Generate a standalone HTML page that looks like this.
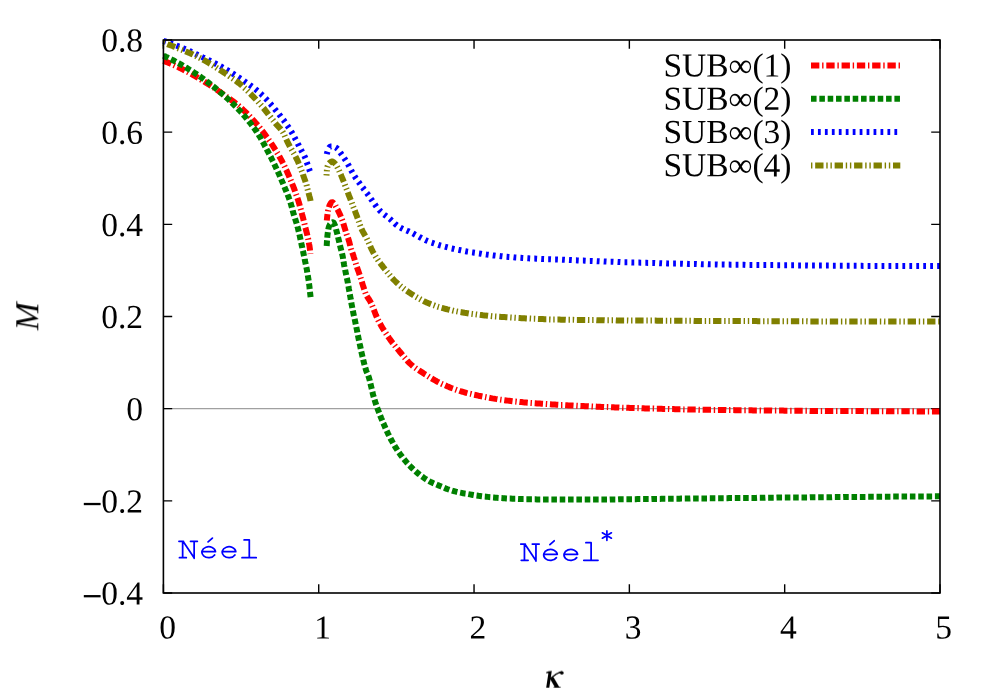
<!DOCTYPE html>
<html><head><meta charset="utf-8"><title>M vs kappa</title>
<style>html,body{margin:0;padding:0;background:#fff;}body{width:1000px;height:700px;overflow:hidden;}svg{display:block;}text{font-family:"Liberation Serif",serif;fill:#000;}.mono{font-family:"Liberation Mono",monospace;fill:#0000ff;}</style></head><body>
<svg width="1000" height="700" viewBox="0 0 1000 700">
<rect x="0" y="0" width="1000" height="700" fill="#ffffff"/>
<line x1="163.4" y1="408.67" x2="940.0" y2="408.67" stroke="#a0a0a0" stroke-width="1.2"/>
<path d="M163.40 593.00 V584.20 M163.40 40.00 V48.80 M318.72 593.00 V584.20 M318.72 40.00 V48.80 M474.04 593.00 V584.20 M474.04 40.00 V48.80 M629.36 593.00 V584.20 M629.36 40.00 V48.80 M784.68 593.00 V584.20 M784.68 40.00 V48.80 M940.00 593.00 V584.20 M940.00 40.00 V48.80 M163.40 40.00 H172.20 M940.00 40.00 H931.20 M163.40 132.17 H172.20 M940.00 132.17 H931.20 M163.40 224.33 H172.20 M940.00 224.33 H931.20 M163.40 316.50 H172.20 M940.00 316.50 H931.20 M163.40 408.67 H172.20 M940.00 408.67 H931.20 M163.40 500.83 H172.20 M940.00 500.83 H931.20 M163.40 593.00 H172.20 M940.00 593.00 H931.20" stroke="#000" stroke-width="1.4" fill="none"/>
<path d="M163.4 60.8 L164.8 61.3 L166.2 61.9 L167.6 62.4 L168.9 63.0 L170.3 63.6 L171.7 64.2 L173.1 64.8 L174.5 65.4 L175.8 66.0 L177.2 66.7 L178.6 67.3 L180.0 68.0 L181.3 68.7 L182.7 69.3 L184.0 70.0 L185.3 70.7 L186.7 71.4 L188.0 72.1 L189.3 72.8 L190.7 73.6 L192.0 74.3 L193.3 75.1 L194.7 75.9 L196.0 76.6 L197.3 77.4 L198.7 78.2 L200.0 79.0 L201.3 79.8 L202.7 80.6 L204.0 81.4 L205.3 82.3 L206.7 83.1 L208.0 84.0 L209.3 84.8 L210.7 85.7 L212.0 86.6 L213.3 87.4 L214.7 88.3 L216.0 89.2 L217.3 90.2 L218.7 91.1 L220.0 92.0 L221.2 92.9 L222.5 93.7 L223.8 94.6 L225.0 95.5 L226.2 96.4 L227.5 97.3 L228.8 98.2 L230.0 99.1 L231.2 100.0 L232.5 100.9 L233.8 101.9 L235.0 102.9 L236.2 103.9 L237.5 104.9 L238.8 105.9 L240.0 107.0 L241.1 107.9 L242.2 108.9 L243.2 109.9 L244.3 110.9 L245.4 112.0 L246.5 113.0 L247.5 114.1 L248.6 115.2 L249.7 116.3 L250.8 117.5 L251.8 118.6 L252.9 119.8 L254.0 121.0 L255.0 122.1 L256.0 123.3 L257.1 124.5 L258.1 125.7 L259.1 126.9 L260.1 128.2 L261.1 129.5 L262.2 130.8 L263.2 132.1 L264.2 133.5 L265.0 134.6 L265.9 135.8 L266.7 136.9 L267.6 138.1 L268.4 139.3 L269.2 140.5 L270.1 141.7 L270.9 142.9 L271.8 144.2 L272.6 145.4 L273.4 146.7 L274.3 148.0 L275.1 149.4 L276.0 150.7 L276.8 152.1 L277.6 153.5 L278.5 154.9 L279.3 156.4 L280.2 157.9 L281.0 159.4 L281.6 160.6 L282.3 161.8 L282.9 163.0 L283.5 164.2 L284.1 165.5 L284.8 166.8 L285.4 168.2 L286.0 169.5 L286.7 170.9 L287.3 172.3 L287.9 173.7 L288.6 175.1 L289.2 176.6 L289.8 178.1 L290.5 179.6 L291.1 181.1 L291.7 182.7 L292.3 184.2 L293.0 185.8 L293.6 187.4 L294.1 188.8 L294.7 190.2 L295.2 191.7 L295.8 193.2 L296.3 194.8 L296.9 196.4 L297.4 198.0 L298.0 199.7 L298.5 201.4 L298.9 202.8 L299.4 204.3 L299.8 205.9 L300.2 207.4 L300.7 209.1 L301.1 210.7 L301.6 212.3 L302.0 214.0 L302.4 215.5 L302.8 217.1 L303.2 218.6 L303.6 220.2 L304.0 221.9 L304.4 223.5 L304.8 225.2 L305.1 226.6 L305.5 227.9 L305.8 229.2 L306.1 230.4 L306.4 231.7 L306.8 233.0 L307.1 234.3 L307.4 235.6 L307.7 237.1 L308.1 238.5 L308.4 240.1 L308.7 241.8 L309.0 243.6 L309.4 245.5 L309.7 247.6 L309.9 248.9 L310.0 250.5 L310.2 252.2 L310.4 253.9" stroke="#ff0000" stroke-width="6.0" stroke-dasharray="8.34 2.78 1.39 2.78" stroke-dashoffset="0.00" fill="none" stroke-linejoin="round"/>
<path d="M326.8 220.5 L327.0 218.5 L327.2 216.6 L327.4 214.9 L327.6 213.5 L327.9 212.0 L328.1 210.7 L328.4 209.5 L328.6 208.5 L329.0 207.3 L329.3 206.1 L329.6 205.2 L330.0 204.5 L330.5 203.7 L331.0 202.9 L331.5 202.4 L332.0 202.2 L332.6 202.3 L333.1 202.7 L333.7 203.2 L334.3 203.8 L334.9 204.5 L335.4 205.4 L335.9 206.5 L336.5 207.5 L337.1 208.7 L337.8 209.9 L338.4 211.2 L339.0 212.5 L339.6 213.8 L340.2 215.1 L340.8 216.5 L341.4 218.0 L342.0 219.5 L342.5 220.9 L343.0 222.4 L343.5 224.0 L344.0 225.6 L344.5 227.3 L345.0 229.0 L345.5 230.7 L346.0 232.4 L346.5 234.0 L347.1 235.8 L347.8 237.4 L348.4 239.1 L349.0 241.0 L349.4 242.4 L349.8 244.1 L350.2 245.7 L350.6 247.3 L351.0 248.8 L351.5 250.4 L352.0 251.8 L352.5 253.2 L353.0 254.5 L353.5 256.0 L353.9 257.4 L354.4 258.8 L354.8 260.2 L355.2 261.6 L355.7 263.2 L356.2 264.8 L356.7 266.3 L357.2 267.8 L357.7 269.4 L358.3 270.9 L358.8 272.4 L359.3 273.9 L359.8 275.4 L360.3 276.9 L360.8 278.4 L361.3 280.0 L361.8 281.6 L362.3 283.3 L362.8 285.0 L363.3 286.6 L363.9 288.3 L364.4 289.9 L364.9 291.4 L365.4 292.8 L365.9 294.1 L366.4 295.2 L367.3 296.8 L368.2 298.2 L369.1 299.5 L370.0 301.0 L370.6 302.2 L371.2 303.4 L371.8 304.8 L372.4 306.2 L373.0 307.7 L373.6 309.2 L374.2 310.7 L374.8 312.3 L375.4 313.8 L376.0 315.3 L376.6 316.7 L377.2 318.1 L377.8 319.4 L378.4 320.6 L379.2 322.1 L380.0 323.6 L380.8 325.0 L381.6 326.4 L382.4 327.8 L383.2 329.1 L384.0 330.4 L384.8 331.7 L385.6 332.9 L386.4 334.1 L387.2 335.3 L388.0 336.5 L388.8 337.7 L389.6 338.8 L390.5 340.1 L391.5 341.4 L392.4 342.7 L393.4 343.9 L394.3 345.1 L395.3 346.3 L396.2 347.5 L397.2 348.6 L398.1 349.7 L399.1 350.9 L400.0 352.0 L401.1 353.3 L402.2 354.6 L403.3 356.0 L404.4 357.3 L405.5 358.6 L406.5 359.8 L407.6 361.1 L408.7 362.3 L409.8 363.4 L410.9 364.4 L412.0 365.4 L413.3 366.5 L414.7 367.5 L416.0 368.4 L417.3 369.3 L418.7 370.1 L420.0 371.0 L421.3 371.9 L422.7 372.7 L424.0 373.6 L425.3 374.5 L426.7 375.3 L428.0 376.2 L429.3 377.0 L430.7 377.8 L432.0 378.6 L433.3 379.4 L434.7 380.2 L436.0 380.9 L437.3 381.7 L438.7 382.3 L440.0 383.0 L441.4 383.7 L442.9 384.3 L444.3 385.0 L445.7 385.6 L447.1 386.2 L448.6 386.8 L450.0 387.4 L451.4 388.0 L452.9 388.5 L454.3 389.1 L455.7 389.6 L457.1 390.1 L458.6 390.5 L460.0 391.0 L461.5 391.5 L463.1 391.9 L464.6 392.3 L466.2 392.8 L467.7 393.2 L469.2 393.6 L470.8 393.9 L472.3 394.3 L473.8 394.7 L475.4 395.0 L476.9 395.3 L478.5 395.7 L480.0 396.0 L481.5 396.3 L483.1 396.6 L484.6 396.9 L486.2 397.2 L487.7 397.5 L489.2 397.8 L490.8 398.1 L492.3 398.4 L493.8 398.6 L495.4 398.9 L496.9 399.1 L498.5 399.4 L500.0 399.6 L501.5 399.8 L503.1 400.0 L504.6 400.2 L506.2 400.4 L507.7 400.6 L509.2 400.8 L510.8 401.0 L512.3 401.2 L513.8 401.4 L515.4 401.5 L516.9 401.7 L518.5 401.8 L520.0 402.0 L521.5 402.1 L523.1 402.3 L524.6 402.4 L526.2 402.5 L527.7 402.7 L529.2 402.8 L530.8 402.9 L532.3 403.0 L533.8 403.2 L535.4 403.3 L536.9 403.4 L538.5 403.5 L540.0 403.6 L541.5 403.7 L543.0 403.8 L544.5 403.9 L546.0 404.0 L547.5 404.1 L549.0 404.2 L550.5 404.3 L552.0 404.4 L553.5 404.5 L555.0 404.6 L556.5 404.7 L558.0 404.8 L559.5 404.9 L561.0 405.0 L562.5 405.0 L564.0 405.1 L565.5 405.2 L567.0 405.3 L568.5 405.4 L570.0 405.4 L571.5 405.5 L573.0 405.6 L574.5 405.7 L576.0 405.7 L577.5 405.8 L579.0 405.9 L580.5 406.0 L582.0 406.0 L583.5 406.1 L585.0 406.2 L586.5 406.2 L588.0 406.3 L589.5 406.4 L591.0 406.4 L592.5 406.5 L594.0 406.6 L595.5 406.6 L597.0 406.7 L598.5 406.8 L600.0 406.8 L601.5 406.9 L603.0 406.9 L604.5 407.0 L606.0 407.1 L607.5 407.1 L609.0 407.2 L610.5 407.2 L612.0 407.3 L613.5 407.3 L615.0 407.4 L616.5 407.4 L618.0 407.5 L619.5 407.6 L621.0 407.6 L622.5 407.7 L624.0 407.7 L625.5 407.7 L627.0 407.8 L628.5 407.8 L630.0 407.9 L631.5 407.9 L633.0 408.0 L634.5 408.0 L636.0 408.1 L637.5 408.1 L639.0 408.2 L640.5 408.2 L642.0 408.3 L643.5 408.3 L645.0 408.4 L646.5 408.4 L648.0 408.4 L649.5 408.5 L651.0 408.5 L652.5 408.6 L654.0 408.6 L655.5 408.7 L657.0 408.7 L658.5 408.7 L660.0 408.8 L661.5 408.8 L663.0 408.9 L664.5 408.9 L666.0 408.9 L667.5 409.0 L669.0 409.0 L670.5 409.1 L672.0 409.1 L673.5 409.1 L675.0 409.2 L676.5 409.2 L678.0 409.2 L679.5 409.3 L681.0 409.3 L682.5 409.3 L684.0 409.4 L685.5 409.4 L687.0 409.4 L688.5 409.5 L690.0 409.5 L691.5 409.5 L693.0 409.6 L694.5 409.6 L696.0 409.6 L697.5 409.6 L699.0 409.7 L700.5 409.7 L702.0 409.7 L703.5 409.7 L705.0 409.8 L706.5 409.8 L708.0 409.8 L709.5 409.8 L711.0 409.8 L712.5 409.9 L714.0 409.9 L715.5 409.9 L717.0 409.9 L718.5 409.9 L720.0 410.0 L721.5 410.0 L723.0 410.0 L724.5 410.0 L726.0 410.0 L727.5 410.1 L729.0 410.1 L730.5 410.1 L732.0 410.1 L733.5 410.1 L735.0 410.2 L736.5 410.2 L738.0 410.2 L739.5 410.2 L741.0 410.2 L742.5 410.2 L744.0 410.3 L745.5 410.3 L747.0 410.3 L748.5 410.3 L750.0 410.3 L751.5 410.3 L753.0 410.4 L754.5 410.4 L756.0 410.4 L757.5 410.4 L759.0 410.4 L760.5 410.4 L762.0 410.5 L763.5 410.5 L765.0 410.5 L766.5 410.5 L768.0 410.5 L769.5 410.5 L771.0 410.5 L772.5 410.6 L774.0 410.6 L775.5 410.6 L777.0 410.6 L778.5 410.6 L780.0 410.6 L781.5 410.6 L783.0 410.6 L784.5 410.7 L786.0 410.7 L787.5 410.7 L789.0 410.7 L790.5 410.7 L792.0 410.7 L793.5 410.7 L795.0 410.7 L796.5 410.8 L798.0 410.8 L799.5 410.8 L801.0 410.8 L802.5 410.8 L804.0 410.8 L805.5 410.8 L807.0 410.8 L808.5 410.8 L810.0 410.9 L811.5 410.9 L813.0 410.9 L814.5 410.9 L816.0 410.9 L817.5 410.9 L819.0 410.9 L820.5 410.9 L822.0 410.9 L823.5 410.9 L825.0 410.9 L826.5 411.0 L828.0 411.0 L829.5 411.0 L831.0 411.0 L832.5 411.0 L834.0 411.0 L835.5 411.0 L837.0 411.0 L838.5 411.0 L840.1 411.0 L841.6 411.0 L843.1 411.0 L844.6 411.1 L846.1 411.1 L847.6 411.1 L849.1 411.1 L850.7 411.1 L852.2 411.1 L853.7 411.1 L855.2 411.1 L856.7 411.1 L858.2 411.1 L859.7 411.1 L861.3 411.1 L862.8 411.1 L864.3 411.2 L865.8 411.2 L867.3 411.2 L868.8 411.2 L870.3 411.2 L871.9 411.2 L873.4 411.2 L874.9 411.2 L876.4 411.2 L877.9 411.2 L879.4 411.2 L880.9 411.2 L882.5 411.2 L884.0 411.2 L885.5 411.2 L887.0 411.3 L888.5 411.3 L890.0 411.3 L891.5 411.3 L893.1 411.3 L894.6 411.3 L896.1 411.3 L897.6 411.3 L899.1 411.3 L900.6 411.3 L902.1 411.3 L903.7 411.3 L905.2 411.3 L906.7 411.3 L908.2 411.3 L909.7 411.3 L911.2 411.3 L912.7 411.3 L914.3 411.3 L915.8 411.4 L917.3 411.4 L918.8 411.4 L920.3 411.4 L921.8 411.4 L923.3 411.4 L924.9 411.4 L926.4 411.4 L927.9 411.4 L929.4 411.4 L930.9 411.4 L932.4 411.4 L933.9 411.4 L935.5 411.4 L937.0 411.4 L938.5 411.4 L940.0 411.4" stroke="#ff0000" stroke-width="6.0" stroke-dasharray="8.34 2.78 1.39 2.78" stroke-dashoffset="1.90" fill="none" stroke-linejoin="round"/>
<path d="M163.4 55.7 L164.8 56.3 L166.2 57.0 L167.6 57.6 L168.9 58.3 L170.3 58.9 L171.7 59.6 L173.1 60.3 L174.5 61.0 L175.8 61.8 L177.2 62.5 L178.6 63.2 L180.0 64.0 L181.3 64.7 L182.7 65.5 L184.0 66.3 L185.3 67.1 L186.7 67.9 L188.0 68.7 L189.3 69.5 L190.7 70.3 L192.0 71.2 L193.3 72.0 L194.7 72.9 L196.0 73.8 L197.3 74.7 L198.7 75.6 L200.0 76.5 L201.2 77.4 L202.5 78.3 L203.8 79.2 L205.0 80.1 L206.2 81.0 L207.5 81.9 L208.8 82.9 L210.0 83.8 L211.2 84.8 L212.5 85.8 L213.8 86.8 L215.0 87.8 L216.2 88.9 L217.5 89.9 L218.8 90.9 L220.0 92.0 L221.1 93.0 L222.2 93.9 L223.3 94.9 L224.4 95.9 L225.6 96.9 L226.7 97.9 L227.8 98.9 L228.9 99.9 L230.0 100.9 L231.1 102.0 L232.2 103.1 L233.3 104.2 L234.4 105.3 L235.6 106.4 L236.7 107.5 L237.8 108.7 L238.9 109.8 L240.0 111.0 L241.0 112.1 L242.0 113.2 L243.0 114.3 L244.0 115.5 L245.0 116.6 L246.0 117.8 L247.0 119.0 L248.0 120.2 L249.0 121.5 L250.0 122.7 L251.0 124.0 L252.0 125.3 L253.0 126.6 L254.0 128.0 L254.9 129.2 L255.7 130.4 L256.6 131.6 L257.4 132.9 L258.3 134.2 L259.1 135.6 L260.0 137.0 L260.8 138.3 L261.5 139.6 L262.2 140.9 L263.0 142.3 L263.8 143.7 L264.5 145.2 L265.2 146.6 L266.0 148.0 L266.7 149.4 L267.4 150.7 L268.2 152.1 L268.9 153.5 L269.6 154.9 L270.3 156.2 L271.1 157.6 L271.8 159.1 L272.5 160.5 L273.2 161.9 L274.0 163.4 L274.7 164.9 L275.4 166.4 L276.0 167.7 L276.6 169.0 L277.2 170.3 L277.8 171.7 L278.5 173.0 L279.1 174.4 L279.7 175.8 L280.3 177.2 L280.9 178.6 L281.5 180.0 L282.1 181.5 L282.8 182.9 L283.4 184.4 L284.0 185.8 L284.6 187.3 L285.2 188.8 L285.7 190.1 L286.3 191.4 L286.8 192.7 L287.4 194.1 L287.9 195.4 L288.5 196.8 L289.0 198.3 L289.6 199.8 L290.1 201.4 L290.5 202.8 L291.0 204.3 L291.4 205.9 L291.9 207.5 L292.3 209.2 L292.7 210.9 L293.2 212.5 L293.6 214.0 L294.1 215.6 L294.6 217.2 L295.1 218.7 L295.6 220.2 L296.1 221.8 L296.6 223.4 L297.1 225.2 L297.4 226.4 L297.8 227.7 L298.1 229.0 L298.4 230.4 L298.8 231.8 L299.1 233.2 L299.4 234.6 L299.8 236.1 L300.1 237.6 L300.4 239.1 L300.7 240.6 L301.1 242.1 L301.4 243.7 L301.7 245.3 L302.1 246.9 L302.4 248.4 L302.7 250.0 L303.1 251.6 L303.4 253.2 L303.7 254.6 L304.0 255.9 L304.3 257.3 L304.6 258.6 L304.8 259.9 L305.1 261.3 L305.4 262.7 L305.7 264.1 L306.0 265.5 L306.3 266.9 L306.6 268.4 L306.9 269.9 L307.1 271.5 L307.4 273.1 L307.7 274.8 L308.0 276.6 L308.3 278.4 L308.5 279.7 L308.7 281.0 L308.9 282.5 L309.1 283.9 L309.3 285.5 L309.5 287.0 L309.6 288.7 L309.8 290.3 L310.0 292.0 L310.2 293.7 L310.4 295.5 L310.6 297.2" stroke="#008000" stroke-width="6.0" stroke-dasharray="5.56 2.78" stroke-dashoffset="0.00" fill="none" stroke-linejoin="round"/>
<path d="M326.7 246.0 L326.8 244.1 L326.9 242.3 L327.0 240.5 L327.2 238.9 L327.3 237.4 L327.4 236.1 L327.5 235.0 L327.8 232.6 L328.1 230.6 L328.4 228.8 L328.7 227.5 L329.0 226.5 L329.5 225.4 L330.0 224.4 L330.5 223.8 L331.0 223.3 L331.5 222.9 L332.0 222.6 L332.5 222.4 L333.0 222.3 L333.5 222.6 L334.0 223.3 L334.5 224.4 L335.0 225.5 L335.4 226.6 L335.8 228.0 L336.1 229.5 L336.5 231.0 L336.9 232.5 L337.3 234.1 L337.7 235.7 L338.1 237.4 L338.5 239.0 L338.9 240.7 L339.3 242.4 L339.7 244.1 L340.1 245.8 L340.5 247.5 L340.9 249.1 L341.3 250.6 L341.7 252.1 L342.1 253.7 L342.5 255.5 L342.8 256.8 L343.0 258.3 L343.2 259.8 L343.5 261.4 L343.8 263.0 L344.0 264.4 L344.3 266.1 L344.6 267.7 L345.0 269.2 L345.3 270.7 L345.6 272.2 L345.9 273.6 L346.2 275.1 L346.5 276.6 L346.9 278.1 L347.2 279.6 L347.5 281.2 L347.8 282.6 L348.0 284.0 L348.3 285.5 L348.6 287.0 L348.8 288.5 L349.1 290.1 L349.4 291.6 L349.6 293.2 L349.9 294.7 L350.2 296.3 L350.5 297.8 L350.7 299.3 L351.0 300.8 L351.3 302.3 L351.5 303.8 L351.8 305.2 L352.1 306.8 L352.4 308.3 L352.7 309.9 L353.0 311.4 L353.3 312.9 L353.6 314.4 L353.9 315.8 L354.2 317.3 L354.6 318.8 L354.9 320.2 L355.2 321.7 L355.5 323.1 L355.8 324.6 L356.1 326.0 L356.4 327.5 L356.7 329.0 L357.0 330.5 L357.3 332.0 L357.6 333.5 L357.9 335.1 L358.2 336.6 L358.5 338.2 L358.8 339.7 L359.1 341.2 L359.5 342.7 L359.8 344.3 L360.1 345.7 L360.4 347.2 L360.7 348.7 L361.0 350.1 L361.3 351.5 L361.6 352.8 L362.0 354.5 L362.4 356.3 L362.8 358.0 L363.2 359.7 L363.6 361.3 L364.0 362.9 L364.4 364.5 L364.8 366.0 L365.2 367.4 L365.6 368.7 L366.0 370.0 L366.6 371.8 L367.3 373.3 L368.0 374.8 L368.6 376.6 L369.0 377.8 L369.4 379.2 L369.8 380.6 L370.1 382.2 L370.5 383.8 L370.9 385.4 L371.3 387.1 L371.7 388.8 L372.1 390.5 L372.5 392.1 L372.8 393.7 L373.2 395.2 L373.6 396.7 L374.0 398.0 L374.5 399.6 L375.0 401.2 L375.5 402.7 L376.0 404.2 L376.5 405.7 L377.0 407.1 L377.5 408.5 L378.0 409.8 L378.5 411.1 L379.0 412.4 L379.5 413.7 L380.0 415.0 L380.6 416.6 L381.2 418.1 L381.9 419.7 L382.5 421.2 L383.1 422.7 L383.8 424.2 L384.4 425.6 L385.0 427.0 L385.6 428.4 L386.2 429.8 L386.9 431.2 L387.5 432.5 L388.1 433.8 L388.8 435.1 L389.4 436.3 L390.0 437.5 L390.8 439.1 L391.7 440.6 L392.5 442.1 L393.3 443.6 L394.2 445.0 L395.0 446.4 L395.8 447.8 L396.7 449.1 L397.5 450.4 L398.3 451.6 L399.2 452.8 L400.0 454.0 L401.0 455.4 L402.0 456.7 L403.0 458.0 L404.0 459.2 L405.0 460.5 L406.0 461.6 L407.0 462.8 L408.0 463.9 L409.0 465.0 L410.0 466.0 L411.2 467.3 L412.5 468.5 L413.8 469.7 L415.0 470.8 L416.2 471.9 L417.5 473.0 L418.8 474.0 L420.0 475.0 L421.4 476.1 L422.9 477.1 L424.3 478.1 L425.7 479.1 L427.1 480.0 L428.6 480.8 L430.0 481.6 L431.4 482.3 L432.9 483.0 L434.3 483.6 L435.7 484.2 L437.1 484.8 L438.6 485.4 L440.0 486.0 L441.4 486.6 L442.9 487.2 L444.3 487.8 L445.7 488.4 L447.1 489.0 L448.6 489.5 L450.0 490.0 L451.7 490.5 L453.3 491.0 L455.0 491.4 L456.7 491.8 L458.3 492.2 L460.0 492.6 L461.7 492.9 L463.3 493.3 L465.0 493.6 L466.7 493.8 L468.3 494.1 L470.0 494.4 L471.7 494.7 L473.3 495.0 L475.0 495.3 L476.7 495.5 L478.3 495.8 L480.0 496.0 L481.5 496.2 L483.1 496.4 L484.6 496.6 L486.2 496.7 L487.7 496.9 L489.2 497.1 L490.8 497.2 L492.3 497.4 L493.8 497.5 L495.4 497.7 L496.9 497.8 L498.5 497.9 L500.0 498.0 L501.5 498.1 L503.1 498.2 L504.6 498.3 L506.2 498.4 L507.7 498.5 L509.2 498.6 L510.8 498.6 L512.3 498.7 L513.8 498.8 L515.4 498.8 L516.9 498.9 L518.5 499.0 L520.0 499.0 L521.5 499.0 L523.1 499.1 L524.6 499.1 L526.2 499.2 L527.7 499.2 L529.2 499.2 L530.8 499.3 L532.3 499.3 L533.8 499.3 L535.4 499.3 L536.9 499.4 L538.5 499.4 L540.0 499.4 L541.5 499.4 L543.1 499.4 L544.6 499.4 L546.2 499.5 L547.7 499.5 L549.2 499.5 L550.8 499.5 L552.3 499.5 L553.8 499.5 L555.4 499.5 L556.9 499.5 L558.5 499.5 L560.0 499.5 L561.5 499.6 L563.1 499.6 L564.6 499.6 L566.2 499.6 L567.7 499.6 L569.2 499.6 L570.8 499.6 L572.3 499.6 L573.8 499.6 L575.4 499.6 L576.9 499.6 L578.5 499.6 L580.0 499.6 L581.5 499.6 L583.0 499.6 L584.5 499.6 L586.0 499.6 L587.5 499.6 L589.1 499.6 L590.6 499.6 L592.1 499.6 L593.6 499.6 L595.1 499.6 L596.6 499.5 L598.1 499.5 L599.6 499.5 L601.1 499.5 L602.6 499.5 L604.1 499.5 L605.6 499.5 L607.2 499.5 L608.7 499.5 L610.2 499.4 L611.7 499.4 L613.2 499.4 L614.7 499.4 L616.2 499.4 L617.7 499.4 L619.2 499.3 L620.7 499.3 L622.2 499.3 L623.8 499.3 L625.3 499.3 L626.8 499.3 L628.3 499.2 L629.8 499.2 L631.3 499.2 L632.8 499.2 L634.3 499.2 L635.8 499.2 L637.3 499.1 L638.8 499.1 L640.4 499.1 L641.9 499.1 L643.4 499.1 L644.9 499.0 L646.4 499.0 L647.9 499.0 L649.4 499.0 L650.9 499.0 L652.4 498.9 L653.9 498.9 L655.4 498.9 L656.9 498.9 L658.5 498.9 L660.0 498.9 L661.5 498.8 L663.0 498.8 L664.5 498.8 L666.0 498.8 L667.5 498.8 L669.0 498.8 L670.5 498.8 L672.0 498.7 L673.5 498.7 L675.0 498.7 L676.5 498.7 L678.0 498.7 L679.5 498.7 L681.0 498.6 L682.5 498.6 L684.0 498.6 L685.5 498.6 L687.0 498.6 L688.5 498.6 L690.0 498.6 L691.5 498.5 L693.0 498.5 L694.5 498.5 L696.0 498.5 L697.5 498.5 L699.0 498.5 L700.5 498.4 L702.0 498.4 L703.5 498.4 L705.0 498.4 L706.5 498.4 L708.0 498.4 L709.5 498.3 L711.0 498.3 L712.5 498.3 L714.0 498.3 L715.5 498.3 L717.0 498.3 L718.5 498.3 L720.0 498.2 L721.5 498.2 L723.0 498.2 L724.5 498.2 L726.0 498.2 L727.5 498.2 L729.0 498.1 L730.5 498.1 L732.0 498.1 L733.5 498.1 L735.0 498.1 L736.5 498.1 L738.0 498.0 L739.5 498.0 L741.0 498.0 L742.5 498.0 L744.0 498.0 L745.5 498.0 L747.0 497.9 L748.5 497.9 L750.0 497.9 L751.5 497.9 L753.0 497.9 L754.5 497.9 L756.0 497.9 L757.5 497.8 L759.0 497.8 L760.5 497.8 L762.0 497.8 L763.5 497.8 L765.0 497.8 L766.5 497.7 L768.0 497.7 L769.5 497.7 L771.0 497.7 L772.5 497.7 L774.0 497.7 L775.5 497.7 L777.0 497.6 L778.5 497.6 L780.0 497.6 L781.5 497.6 L783.0 497.6 L784.5 497.6 L786.0 497.6 L787.5 497.5 L789.0 497.5 L790.5 497.5 L792.0 497.5 L793.5 497.5 L795.0 497.5 L796.5 497.5 L798.0 497.4 L799.6 497.4 L801.1 497.4 L802.6 497.4 L804.1 497.4 L805.6 497.4 L807.1 497.4 L808.6 497.4 L810.1 497.3 L811.6 497.3 L813.1 497.3 L814.7 497.3 L816.2 497.3 L817.7 497.3 L819.2 497.3 L820.7 497.2 L822.2 497.2 L823.7 497.2 L825.2 497.2 L826.7 497.2 L828.2 497.2 L829.8 497.2 L831.3 497.2 L832.8 497.1 L834.3 497.1 L835.8 497.1 L837.3 497.1 L838.8 497.1 L840.3 497.1 L841.8 497.1 L843.3 497.0 L844.9 497.0 L846.4 497.0 L847.9 497.0 L849.4 497.0 L850.9 497.0 L852.4 497.0 L853.9 497.0 L855.4 496.9 L856.9 496.9 L858.4 496.9 L860.0 496.9 L861.5 496.9 L863.0 496.9 L864.5 496.9 L866.0 496.9 L867.5 496.8 L869.0 496.8 L870.5 496.8 L872.0 496.8 L873.6 496.8 L875.1 496.8 L876.6 496.8 L878.1 496.8 L879.6 496.7 L881.1 496.7 L882.6 496.7 L884.1 496.7 L885.6 496.7 L887.1 496.7 L888.7 496.7 L890.2 496.7 L891.7 496.7 L893.2 496.6 L894.7 496.6 L896.2 496.6 L897.7 496.6 L899.2 496.6 L900.7 496.6 L902.2 496.6 L903.8 496.6 L905.3 496.6 L906.8 496.5 L908.3 496.5 L909.8 496.5 L911.3 496.5 L912.8 496.5 L914.3 496.5 L915.8 496.5 L917.3 496.5 L918.9 496.5 L920.4 496.4 L921.9 496.4 L923.4 496.4 L924.9 496.4 L926.4 496.4 L927.9 496.4 L929.4 496.4 L930.9 496.4 L932.4 496.4 L934.0 496.3 L935.5 496.3 L937.0 496.3 L938.5 496.3 L940.0 496.3" stroke="#008000" stroke-width="6.0" stroke-dasharray="5.56 2.78" stroke-dashoffset="0.00" fill="none" stroke-linejoin="round"/>
<path d="M163.4 40.8 L164.9 41.3 L166.4 41.8 L167.9 42.4 L169.4 42.9 L170.9 43.5 L172.5 44.0 L174.0 44.6 L175.5 45.2 L177.0 45.8 L178.5 46.4 L180.0 47.0 L181.4 47.6 L182.9 48.2 L184.3 48.8 L185.7 49.4 L187.1 50.0 L188.6 50.7 L190.0 51.3 L191.4 52.0 L192.9 52.6 L194.3 53.3 L195.7 54.0 L197.1 54.6 L198.6 55.3 L200.0 56.0 L201.4 56.7 L202.9 57.4 L204.3 58.0 L205.7 58.7 L207.1 59.4 L208.6 60.1 L210.0 60.8 L211.4 61.5 L212.9 62.2 L214.3 63.0 L215.7 63.7 L217.1 64.5 L218.6 65.2 L220.0 66.0 L221.3 66.7 L222.7 67.5 L224.0 68.3 L225.3 69.0 L226.7 69.8 L228.0 70.6 L229.3 71.4 L230.7 72.3 L232.0 73.1 L233.3 73.9 L234.7 74.8 L236.0 75.7 L237.3 76.5 L238.7 77.4 L240.0 78.3 L241.2 79.1 L242.5 80.0 L243.8 80.8 L245.0 81.7 L246.2 82.5 L247.5 83.4 L248.8 84.2 L250.0 85.1 L251.2 86.0 L252.5 86.9 L253.8 87.9 L255.0 88.8 L256.2 89.8 L257.5 90.9 L258.8 91.9 L260.0 93.0 L261.1 94.0 L262.1 95.0 L263.2 96.0 L264.3 97.1 L265.3 98.2 L266.4 99.3 L267.5 100.5 L268.5 101.7 L269.6 102.9 L270.7 104.1 L271.7 105.4 L272.8 106.6 L273.9 107.9 L274.9 109.2 L276.0 110.5 L276.9 111.6 L277.9 112.8 L278.8 113.9 L279.7 115.1 L280.7 116.3 L281.6 117.5 L282.5 118.8 L283.5 120.0 L284.4 121.3 L285.3 122.6 L286.3 123.9 L287.2 125.3 L288.1 126.6 L289.1 128.1 L290.0 129.5 L290.7 130.7 L291.4 131.8 L292.2 133.1 L292.9 134.3 L293.6 135.6 L294.3 137.0 L295.0 138.3 L295.8 139.7 L296.5 141.0 L297.2 142.4 L297.9 143.8 L298.6 145.2 L299.3 146.6 L300.1 148.0 L300.8 149.3 L301.5 150.7 L302.4 152.3 L303.2 153.8 L304.1 155.4 L305.0 157.3 L305.6 158.7 L306.1 160.3 L306.6 161.9 L307.2 163.5 L307.8 165.1 L308.4 166.7 L308.9 168.3 L309.5 170.0 L309.6 170.5 L309.8 171.0 L310.0 171.5 L310.1 172.0" stroke="#0000ff" stroke-width="6.0" stroke-dasharray="2.78 4.17" stroke-dashoffset="0.00" fill="none" stroke-linejoin="round"/>
<path d="M326.8 154.2 L327.1 152.8 L327.5 151.5 L327.9 150.4 L328.2 149.6 L328.8 148.5 L329.3 147.6 L329.8 146.9 L330.4 146.6 L331.2 146.6 L331.9 146.6 L332.7 146.6 L333.5 146.6 L334.3 146.7 L335.1 147.1 L336.0 147.6 L336.8 148.2 L337.9 149.2 L338.9 150.6 L339.9 152.1 L341.0 153.6 L342.0 155.0 L343.0 156.4 L344.0 157.8 L345.0 159.3 L345.9 160.7 L346.8 162.2 L347.7 163.8 L348.6 165.4 L349.4 166.9 L350.2 168.4 L351.0 169.9 L351.8 171.4 L352.7 173.0 L353.6 174.6 L354.5 176.1 L355.4 177.5 L356.4 178.9 L357.4 180.3 L358.3 181.6 L359.3 182.9 L360.2 184.2 L361.2 185.5 L362.1 186.8 L363.1 188.0 L364.0 189.3 L365.0 190.6 L365.9 191.9 L366.9 193.1 L367.8 194.4 L368.8 195.7 L369.7 197.1 L370.7 198.5 L371.7 199.9 L372.6 201.3 L373.6 202.7 L374.6 204.0 L375.6 205.4 L376.5 206.7 L377.5 207.9 L378.5 209.1 L379.4 210.2 L380.4 211.2 L381.6 212.3 L382.8 213.4 L384.0 214.4 L385.2 215.3 L386.4 216.2 L387.6 217.1 L388.8 218.0 L390.0 219.0 L391.2 220.1 L392.5 221.3 L393.7 222.4 L394.9 223.6 L396.1 224.7 L397.4 225.7 L398.6 226.6 L400.0 227.4 L401.5 228.2 L402.9 228.9 L404.3 229.5 L405.7 230.1 L407.1 230.7 L408.6 231.3 L410.0 232.0 L411.4 232.7 L412.9 233.4 L414.3 234.2 L415.7 235.0 L417.1 235.7 L418.6 236.5 L420.0 237.3 L421.4 238.0 L422.9 238.8 L424.3 239.5 L425.7 240.2 L427.1 240.8 L428.6 241.4 L430.0 242.0 L431.5 242.6 L433.1 243.1 L434.6 243.6 L436.2 244.1 L437.7 244.6 L439.2 245.1 L440.8 245.6 L442.3 246.0 L443.8 246.4 L445.4 246.8 L446.9 247.2 L448.5 247.6 L450.0 248.0 L451.5 248.4 L453.1 248.7 L454.6 249.1 L456.2 249.4 L457.7 249.7 L459.2 250.0 L460.8 250.3 L462.3 250.6 L463.8 250.9 L465.4 251.2 L466.9 251.5 L468.5 251.7 L470.0 252.0 L471.5 252.3 L473.1 252.5 L474.6 252.8 L476.2 253.0 L477.7 253.3 L479.2 253.5 L480.8 253.7 L482.3 254.0 L483.8 254.2 L485.4 254.4 L486.9 254.6 L488.5 254.8 L490.0 255.0 L491.5 255.2 L493.1 255.4 L494.6 255.5 L496.2 255.7 L497.7 255.9 L499.2 256.0 L500.8 256.2 L502.3 256.3 L503.8 256.5 L505.4 256.6 L506.9 256.7 L508.5 256.9 L510.0 257.0 L511.5 257.1 L513.1 257.2 L514.6 257.4 L516.2 257.5 L517.7 257.6 L519.2 257.7 L520.8 257.8 L522.3 257.9 L523.8 258.0 L525.4 258.1 L526.9 258.2 L528.5 258.3 L530.0 258.4 L531.6 258.5 L533.1 258.6 L534.7 258.6 L536.2 258.7 L537.8 258.8 L539.3 258.9 L540.9 258.9 L542.4 259.0 L544.0 259.0 L545.6 259.1 L547.1 259.2 L548.7 259.2 L550.2 259.3 L551.8 259.4 L553.3 259.4 L554.9 259.5 L556.4 259.5 L558.0 259.6 L559.5 259.7 L561.0 259.7 L562.5 259.8 L564.0 259.8 L565.5 259.9 L567.0 260.0 L568.5 260.0 L570.0 260.1 L571.5 260.1 L573.0 260.2 L574.5 260.3 L576.0 260.3 L577.5 260.4 L579.0 260.5 L580.5 260.5 L582.0 260.6 L583.5 260.6 L585.0 260.7 L586.5 260.8 L588.0 260.8 L589.5 260.9 L591.0 260.9 L592.5 261.0 L594.0 261.1 L595.5 261.1 L597.0 261.2 L598.5 261.2 L600.0 261.3 L601.5 261.4 L603.0 261.4 L604.5 261.5 L606.0 261.5 L607.5 261.6 L609.0 261.6 L610.5 261.7 L612.0 261.7 L613.5 261.8 L615.0 261.9 L616.5 261.9 L618.0 262.0 L619.5 262.0 L621.0 262.1 L622.5 262.1 L624.0 262.2 L625.5 262.2 L627.0 262.3 L628.5 262.3 L630.0 262.4 L631.5 262.4 L633.0 262.5 L634.5 262.5 L636.0 262.5 L637.5 262.6 L639.0 262.6 L640.5 262.7 L642.0 262.7 L643.5 262.8 L645.0 262.8 L646.5 262.8 L648.0 262.9 L649.5 262.9 L651.0 263.0 L652.5 263.0 L654.0 263.0 L655.5 263.1 L657.0 263.1 L658.5 263.1 L660.0 263.2 L661.5 263.2 L663.0 263.3 L664.5 263.3 L666.0 263.3 L667.5 263.4 L669.0 263.4 L670.5 263.4 L672.0 263.5 L673.5 263.5 L675.0 263.6 L676.5 263.6 L678.0 263.6 L679.5 263.7 L681.0 263.7 L682.5 263.7 L684.0 263.8 L685.5 263.8 L687.0 263.8 L688.5 263.9 L690.0 263.9 L691.5 263.9 L693.0 264.0 L694.5 264.0 L696.0 264.0 L697.5 264.1 L699.0 264.1 L700.5 264.1 L702.0 264.2 L703.5 264.2 L705.0 264.2 L706.5 264.2 L708.0 264.3 L709.5 264.3 L711.0 264.3 L712.5 264.4 L714.0 264.4 L715.5 264.4 L717.0 264.4 L718.5 264.5 L720.0 264.5 L721.5 264.5 L723.0 264.5 L724.5 264.6 L726.0 264.6 L727.5 264.6 L729.0 264.6 L730.5 264.7 L732.0 264.7 L733.5 264.7 L735.0 264.7 L736.5 264.7 L738.0 264.8 L739.5 264.8 L741.0 264.8 L742.5 264.8 L744.0 264.8 L745.5 264.9 L747.0 264.9 L748.5 264.9 L750.0 264.9 L751.5 264.9 L753.0 264.9 L754.5 264.9 L756.0 265.0 L757.5 265.0 L759.0 265.0 L760.6 265.0 L762.1 265.0 L763.6 265.0 L765.1 265.1 L766.6 265.1 L768.1 265.1 L769.6 265.1 L771.1 265.1 L772.6 265.1 L774.1 265.1 L775.6 265.2 L777.1 265.2 L778.7 265.2 L780.2 265.2 L781.7 265.2 L783.2 265.2 L784.7 265.2 L786.2 265.3 L787.7 265.3 L789.2 265.3 L790.7 265.3 L792.2 265.3 L793.7 265.3 L795.2 265.3 L796.7 265.4 L798.3 265.4 L799.8 265.4 L801.3 265.4 L802.8 265.4 L804.3 265.4 L805.8 265.4 L807.3 265.4 L808.8 265.5 L810.3 265.5 L811.8 265.5 L813.3 265.5 L814.8 265.5 L816.3 265.5 L817.9 265.5 L819.4 265.5 L820.9 265.6 L822.4 265.6 L823.9 265.6 L825.4 265.6 L826.9 265.6 L828.4 265.6 L829.9 265.6 L831.4 265.6 L832.9 265.7 L834.4 265.7 L836.0 265.7 L837.5 265.7 L839.0 265.7 L840.5 265.7 L842.0 265.7 L843.5 265.7 L845.0 265.7 L846.5 265.8 L848.0 265.8 L849.5 265.8 L851.0 265.8 L852.5 265.8 L854.0 265.8 L855.6 265.8 L857.1 265.8 L858.6 265.8 L860.1 265.8 L861.6 265.8 L863.1 265.9 L864.6 265.9 L866.1 265.9 L867.6 265.9 L869.1 265.9 L870.6 265.9 L872.1 265.9 L873.7 265.9 L875.2 265.9 L876.7 265.9 L878.2 265.9 L879.7 265.9 L881.2 266.0 L882.7 266.0 L884.2 266.0 L885.7 266.0 L887.2 266.0 L888.7 266.0 L890.2 266.0 L891.7 266.0 L893.3 266.0 L894.8 266.0 L896.3 266.0 L897.8 266.0 L899.3 266.0 L900.8 266.0 L902.3 266.0 L903.8 266.0 L905.3 266.0 L906.8 266.1 L908.3 266.1 L909.8 266.1 L911.3 266.1 L912.9 266.1 L914.4 266.1 L915.9 266.1 L917.4 266.1 L918.9 266.1 L920.4 266.1 L921.9 266.1 L923.4 266.1 L924.9 266.1 L926.4 266.1 L927.9 266.1 L929.4 266.1 L931.0 266.1 L932.5 266.1 L934.0 266.1 L935.5 266.1 L937.0 266.1 L938.5 266.1 L940.0 266.1" stroke="#0000ff" stroke-width="6.0" stroke-dasharray="2.78 4.17" stroke-dashoffset="0.00" fill="none" stroke-linejoin="round"/>
<path d="M163.4 42.8 L164.9 43.3 L166.4 43.8 L167.9 44.4 L169.4 44.9 L170.9 45.5 L172.5 46.0 L174.0 46.6 L175.5 47.2 L177.0 47.8 L178.5 48.4 L180.0 49.0 L181.4 49.6 L182.9 50.2 L184.3 50.8 L185.7 51.4 L187.1 52.0 L188.6 52.6 L190.0 53.2 L191.4 53.9 L192.9 54.5 L194.3 55.2 L195.7 55.9 L197.1 56.6 L198.6 57.3 L200.0 58.0 L201.3 58.7 L202.7 59.4 L204.0 60.2 L205.3 60.9 L206.7 61.7 L208.0 62.5 L209.3 63.3 L210.7 64.1 L212.0 64.9 L213.3 65.7 L214.7 66.6 L216.0 67.4 L217.3 68.3 L218.7 69.1 L220.0 70.0 L221.2 70.8 L222.5 71.6 L223.8 72.4 L225.0 73.2 L226.2 74.1 L227.5 74.9 L228.8 75.7 L230.0 76.6 L231.2 77.4 L232.5 78.3 L233.8 79.2 L235.0 80.1 L236.2 81.0 L237.5 82.0 L238.8 83.0 L240.0 84.0 L241.1 84.9 L242.2 85.9 L243.3 86.9 L244.4 87.9 L245.6 88.9 L246.7 90.0 L247.8 91.1 L248.9 92.2 L250.0 93.3 L251.1 94.4 L252.2 95.6 L253.3 96.7 L254.4 97.9 L255.6 99.1 L256.7 100.3 L257.8 101.5 L258.9 102.8 L260.0 104.0 L260.9 105.1 L261.9 106.2 L262.8 107.3 L263.8 108.4 L264.7 109.6 L265.6 110.8 L266.6 112.0 L267.5 113.2 L268.5 114.5 L269.4 115.7 L270.4 116.9 L271.3 118.1 L272.2 119.3 L273.2 120.5 L274.1 121.7 L275.1 122.9 L276.0 124.0 L277.1 125.2 L278.1 126.3 L279.2 127.5 L280.3 128.6 L281.3 129.9 L282.4 131.4 L283.1 132.5 L283.8 133.9 L284.5 135.3 L285.2 136.9 L285.9 138.5 L286.6 140.0 L287.3 141.6 L288.0 143.0 L288.8 144.4 L289.5 145.8 L290.2 147.2 L291.0 148.5 L291.8 149.8 L292.5 151.1 L293.2 152.4 L294.0 153.7 L294.8 155.1 L295.5 156.5 L296.2 158.0 L297.0 159.5 L297.6 160.8 L298.2 162.1 L298.8 163.6 L299.4 165.0 L300.0 166.5 L300.6 168.0 L301.1 169.5 L301.7 171.0 L302.3 172.6 L302.9 174.2 L303.4 175.9 L304.0 177.5 L304.5 178.9 L305.0 180.3 L305.5 181.8 L306.0 183.3 L306.5 185.0 L306.8 185.9 L307.0 187.0 L307.2 188.0 L307.5 189.0 L307.9 190.5 L308.3 192.0 L308.7 193.5 L309.1 195.0 L309.5 196.5 L309.8 197.5 L310.0 198.4 L310.2 199.4 L310.5 200.5 L310.6 201.1 L310.8 201.7 L310.9 202.3 L311.0 203.0" stroke="#808000" stroke-width="6.0" stroke-dasharray="1.39 2.78 8.34 2.78 1.39 2.78" stroke-dashoffset="0.00" fill="none" stroke-linejoin="round"/>
<path d="M326.5 175.5 L326.6 173.6 L326.8 171.7 L326.9 170.0 L327.1 168.7 L327.2 167.8 L327.6 166.1 L328.1 164.9 L328.6 164.1 L329.0 163.5 L329.8 162.7 L330.6 162.1 L331.3 161.7 L332.1 161.5 L332.8 161.7 L333.6 162.1 L334.3 162.8 L335.0 163.5 L335.7 164.3 L336.4 165.4 L337.0 166.5 L337.7 167.8 L338.3 169.0 L338.9 170.3 L339.5 171.6 L340.1 173.0 L340.8 174.5 L341.4 176.0 L342.0 177.5 L342.6 179.0 L343.2 180.4 L343.8 181.9 L344.4 183.4 L344.9 184.9 L345.5 186.4 L346.1 187.9 L346.7 189.5 L347.3 191.0 L347.9 192.6 L348.4 194.1 L349.0 195.7 L349.6 197.2 L350.2 198.7 L350.8 200.2 L351.4 201.7 L351.9 203.2 L352.5 204.7 L353.1 206.3 L353.7 207.8 L354.3 209.3 L354.9 210.8 L355.4 212.3 L356.0 213.9 L356.6 215.4 L357.1 216.9 L357.7 218.4 L358.2 219.9 L358.8 221.5 L359.3 223.1 L359.8 224.6 L360.4 226.1 L360.9 227.5 L361.5 228.8 L362.0 230.0 L362.9 231.7 L363.8 233.3 L364.6 234.7 L365.5 236.2 L366.4 237.8 L367.1 239.2 L367.8 240.7 L368.5 242.3 L369.2 243.9 L369.9 245.5 L370.6 247.1 L371.3 248.6 L372.0 250.0 L372.8 251.6 L373.7 253.2 L374.5 254.6 L375.4 256.1 L376.2 257.4 L377.2 258.9 L378.1 260.3 L379.1 261.7 L380.1 263.0 L381.1 264.3 L382.1 265.5 L383.0 266.8 L384.0 268.0 L385.0 269.3 L386.0 270.5 L387.0 271.8 L388.0 273.0 L389.0 274.3 L390.0 275.5 L391.0 276.7 L392.0 277.8 L393.0 278.9 L394.0 280.0 L395.0 281.0 L396.0 282.0 L397.3 283.2 L398.5 284.3 L399.8 285.4 L401.1 286.5 L402.4 287.5 L403.6 288.5 L404.9 289.5 L406.2 290.4 L407.5 291.3 L408.7 292.2 L410.0 293.0 L411.4 293.9 L412.8 294.8 L414.2 295.7 L415.5 296.5 L416.9 297.3 L418.3 298.1 L419.7 298.9 L421.1 299.7 L422.5 300.4 L423.8 301.1 L425.2 301.8 L426.6 302.4 L428.0 303.0 L429.5 303.6 L431.0 304.2 L432.5 304.8 L434.0 305.3 L435.5 305.9 L437.0 306.4 L438.5 306.9 L440.0 307.3 L441.5 307.8 L443.0 308.2 L444.5 308.6 L446.0 309.0 L447.5 309.4 L449.1 309.7 L450.6 310.1 L452.2 310.4 L453.7 310.8 L455.2 311.1 L456.8 311.4 L458.3 311.7 L459.8 312.0 L461.4 312.2 L462.9 312.5 L464.5 312.8 L466.0 313.0 L467.5 313.2 L469.1 313.5 L470.6 313.7 L472.2 313.9 L473.7 314.1 L475.2 314.3 L476.8 314.5 L478.3 314.7 L479.8 314.9 L481.4 315.1 L482.9 315.3 L484.5 315.4 L486.0 315.6 L487.5 315.7 L489.1 315.9 L490.6 316.0 L492.2 316.2 L493.7 316.3 L495.2 316.4 L496.8 316.5 L498.3 316.7 L499.8 316.8 L501.4 316.9 L502.9 317.0 L504.5 317.1 L506.0 317.2 L507.5 317.3 L509.1 317.4 L510.6 317.5 L512.2 317.6 L513.7 317.7 L515.2 317.8 L516.8 317.9 L518.3 318.0 L519.8 318.1 L521.4 318.2 L522.9 318.2 L524.5 318.3 L526.0 318.4 L527.5 318.5 L529.0 318.5 L530.6 318.6 L532.1 318.7 L533.6 318.8 L535.1 318.8 L536.7 318.9 L538.2 319.0 L539.7 319.0 L541.2 319.1 L542.8 319.1 L544.3 319.2 L545.8 319.3 L547.3 319.3 L548.9 319.4 L550.4 319.4 L551.9 319.5 L553.4 319.5 L555.0 319.5 L556.5 319.6 L558.0 319.6 L559.5 319.6 L561.0 319.7 L562.5 319.7 L564.0 319.7 L565.5 319.7 L567.0 319.8 L568.5 319.8 L570.0 319.8 L571.5 319.8 L573.0 319.8 L574.5 319.9 L576.0 319.9 L577.5 319.9 L579.0 319.9 L580.5 320.0 L582.0 320.0 L583.5 320.0 L585.0 320.0 L586.5 320.0 L588.0 320.1 L589.5 320.1 L591.0 320.1 L592.5 320.1 L594.0 320.1 L595.5 320.1 L597.0 320.2 L598.5 320.2 L600.0 320.2 L601.5 320.2 L603.0 320.2 L604.5 320.2 L606.0 320.3 L607.5 320.3 L609.0 320.3 L610.5 320.3 L612.0 320.3 L613.5 320.3 L615.0 320.3 L616.5 320.4 L618.0 320.4 L619.5 320.4 L621.0 320.4 L622.5 320.4 L624.0 320.4 L625.5 320.4 L627.0 320.4 L628.5 320.5 L630.0 320.5 L631.5 320.5 L633.0 320.5 L634.5 320.5 L636.0 320.5 L637.5 320.5 L639.0 320.5 L640.5 320.5 L642.0 320.6 L643.5 320.6 L645.0 320.6 L646.5 320.6 L648.0 320.6 L649.5 320.6 L651.0 320.6 L652.5 320.6 L654.0 320.6 L655.5 320.6 L657.0 320.7 L658.5 320.7 L660.0 320.7 L661.5 320.7 L663.0 320.7 L664.5 320.7 L666.0 320.7 L667.5 320.7 L669.0 320.7 L670.5 320.7 L672.0 320.7 L673.5 320.7 L675.0 320.7 L676.5 320.8 L678.0 320.8 L679.5 320.8 L681.1 320.8 L682.6 320.8 L684.1 320.8 L685.6 320.8 L687.1 320.8 L688.6 320.8 L690.1 320.8 L691.6 320.8 L693.1 320.8 L694.6 320.9 L696.1 320.9 L697.6 320.9 L699.1 320.9 L700.6 320.9 L702.1 320.9 L703.6 320.9 L705.1 320.9 L706.6 320.9 L708.2 320.9 L709.7 320.9 L711.2 320.9 L712.7 320.9 L714.2 320.9 L715.7 321.0 L717.2 321.0 L718.7 321.0 L720.2 321.0 L721.7 321.0 L723.2 321.0 L724.7 321.0 L726.2 321.0 L727.7 321.0 L729.2 321.0 L730.7 321.0 L732.2 321.0 L733.7 321.0 L735.3 321.1 L736.8 321.1 L738.3 321.1 L739.8 321.1 L741.3 321.1 L742.8 321.1 L744.3 321.1 L745.8 321.1 L747.3 321.1 L748.8 321.1 L750.3 321.1 L751.8 321.1 L753.3 321.1 L754.8 321.1 L756.3 321.1 L757.8 321.2 L759.3 321.2 L760.8 321.2 L762.4 321.2 L763.9 321.2 L765.4 321.2 L766.9 321.2 L768.4 321.2 L769.9 321.2 L771.4 321.2 L772.9 321.2 L774.4 321.2 L775.9 321.2 L777.4 321.2 L778.9 321.2 L780.4 321.2 L781.9 321.3 L783.4 321.3 L784.9 321.3 L786.4 321.3 L787.9 321.3 L789.5 321.3 L791.0 321.3 L792.5 321.3 L794.0 321.3 L795.5 321.3 L797.0 321.3 L798.5 321.3 L800.0 321.3 L801.5 321.3 L803.0 321.3 L804.5 321.3 L806.0 321.3 L807.5 321.3 L809.0 321.4 L810.5 321.4 L812.0 321.4 L813.5 321.4 L815.0 321.4 L816.5 321.4 L818.1 321.4 L819.6 321.4 L821.1 321.4 L822.6 321.4 L824.1 321.4 L825.6 321.4 L827.1 321.4 L828.6 321.4 L830.1 321.4 L831.6 321.4 L833.1 321.4 L834.6 321.4 L836.1 321.4 L837.6 321.4 L839.1 321.4 L840.6 321.5 L842.1 321.5 L843.6 321.5 L845.2 321.5 L846.7 321.5 L848.2 321.5 L849.7 321.5 L851.2 321.5 L852.7 321.5 L854.2 321.5 L855.7 321.5 L857.2 321.5 L858.7 321.5 L860.2 321.5 L861.7 321.5 L863.2 321.5 L864.7 321.5 L866.2 321.5 L867.7 321.5 L869.2 321.5 L870.7 321.5 L872.3 321.5 L873.8 321.5 L875.3 321.5 L876.8 321.5 L878.3 321.5 L879.8 321.5 L881.3 321.5 L882.8 321.5 L884.3 321.6 L885.8 321.6 L887.3 321.6 L888.8 321.6 L890.3 321.6 L891.8 321.6 L893.3 321.6 L894.8 321.6 L896.3 321.6 L897.8 321.6 L899.4 321.6 L900.9 321.6 L902.4 321.6 L903.9 321.6 L905.4 321.6 L906.9 321.6 L908.4 321.6 L909.9 321.6 L911.4 321.6 L912.9 321.6 L914.4 321.6 L915.9 321.6 L917.4 321.6 L918.9 321.6 L920.4 321.6 L921.9 321.6 L923.4 321.6 L924.9 321.6 L926.5 321.6 L928.0 321.6 L929.5 321.6 L931.0 321.6 L932.5 321.6 L934.0 321.6 L935.5 321.6 L937.0 321.6 L938.5 321.6 L940.0 321.6" stroke="#808000" stroke-width="6.0" stroke-dasharray="1.39 2.78 8.34 2.78 1.39 2.78" stroke-dashoffset="11.12" fill="none" stroke-linejoin="round"/>
<rect x="163.4" y="40.0" width="776.6" height="553.0" fill="none" stroke="#000" stroke-width="1.6"/>
<g style="opacity:0.999">
<text transform="translate(143.00 51.60) rotate(0.05)" font-size="33.5" text-anchor="end">0.8</text>
<text transform="translate(143.00 143.77) rotate(0.05)" font-size="33.5" text-anchor="end">0.6</text>
<text transform="translate(143.00 235.93) rotate(0.05)" font-size="33.5" text-anchor="end">0.4</text>
<text transform="translate(143.00 328.10) rotate(0.05)" font-size="33.5" text-anchor="end">0.2</text>
<text transform="translate(143.00 420.27) rotate(0.05)" font-size="33.5" text-anchor="end">0</text>
<text transform="translate(143.00 512.43) rotate(0.05)" font-size="33.5" text-anchor="end">0.2</text>
<rect x="83.8" y="502.88" width="16.8" height="2.3" fill="#000"/>
<text transform="translate(143.00 604.60) rotate(0.05)" font-size="33.5" text-anchor="end">0.4</text>
<rect x="83.8" y="595.05" width="16.8" height="2.3" fill="#000"/>
<text transform="translate(167.50 638.60) rotate(0.05)" font-size="33.5" text-anchor="middle">0</text>
<text transform="translate(322.70 638.60) rotate(0.05)" font-size="33.5" text-anchor="middle">1</text>
<text transform="translate(477.90 638.60) rotate(0.05)" font-size="33.5" text-anchor="middle">2</text>
<text transform="translate(633.10 638.60) rotate(0.05)" font-size="33.5" text-anchor="middle">3</text>
<text transform="translate(788.30 638.60) rotate(0.05)" font-size="33.5" text-anchor="middle">4</text>
<text transform="translate(943.50 638.60) rotate(0.05)" font-size="33.5" text-anchor="middle">5</text>
<g transform="translate(535 660) scale(0.05)" fill="#000" stroke="none"><path d="M220 257 L226 241 L265 229 L336 216 L285 556 L223 556 L268 263 L220 264 Z"/><path d="M298 374 L370 343 L481 531 L521 545 L521 556 L364 556 L364 547 L393 535 Z"/><path d="M306 372 Q410 272 512 240" fill="none" stroke="#000" stroke-width="24" stroke-linecap="round"/><circle cx="537" cy="257" r="36"/><path d="M455 262 Q490 226 537 221 L537 262 Z"/></g>
<text transform="translate(38.30 316.30) rotate(-89.95)" font-size="33.5" text-anchor="middle" font-style="italic">M</text>
<text transform="translate(791.50 76.50) rotate(0.05)" font-size="33.5" text-anchor="end">SUB∞(1)</text>
<text transform="translate(791.50 109.80) rotate(0.05)" font-size="33.5" text-anchor="end">SUB∞(2)</text>
<text transform="translate(791.50 143.10) rotate(0.05)" font-size="33.5" text-anchor="end">SUB∞(3)</text>
<text transform="translate(791.50 176.40) rotate(0.05)" font-size="33.5" text-anchor="end">SUB∞(4)</text>
</g>
<g transform="translate(0 558.50)" stroke="#0000ff" stroke-width="1.75" fill="none" stroke-linecap="round" stroke-linejoin="round"><path d="M178.95 -17.20 H183.50 M182.65 -17.20 V-0.85 M179.45 -0.85 H186.30 M183.20 -17.00 L193.90 -0.90 M194.15 -17.20 V-0.20 M190.50 -17.20 H197.35 M202.00 -6.80 H215.45 M215.47 -6.78 A6.8 5.45 0 1 0 214.60 -3.57 M208.10 -16.60 L212.40 -20.40 M222.30 -6.80 H235.75 M235.77 -6.78 A6.8 5.45 0 1 0 234.90 -3.57 M244.10 -18.55 H249.30 V-0.85 M242.00 -0.85 H256.20"/></g>
<g transform="translate(0 561.20)" stroke="#0000ff" stroke-width="1.75" fill="none" stroke-linecap="round" stroke-linejoin="round"><path d="M520.75 -17.20 H525.30 M524.45 -17.20 V-0.85 M521.25 -0.85 H528.10 M525.00 -17.00 L535.70 -0.90 M535.95 -17.20 V-0.20 M532.30 -17.20 H539.15 M543.80 -6.80 H557.25 M557.27 -6.78 A6.8 5.45 0 1 0 556.40 -3.57 M549.90 -16.60 L554.20 -20.40 M564.10 -6.80 H577.55 M577.57 -6.78 A6.8 5.45 0 1 0 576.70 -3.57 M585.90 -18.55 H591.10 V-0.85 M583.80 -0.85 H598.00"/><path d="M606.90 -30.30 V-20.90 M602.40 -28.40 L611.40 -23.00 M602.40 -23.00 L611.40 -28.40" stroke-width="1.7"/></g>
<path d="M811 65.5 H900.3" stroke="#ff0000" stroke-width="6.0" stroke-dasharray="8.34 2.78 1.39 2.78" fill="none"/>
<path d="M811 98.8 H900.3" stroke="#008000" stroke-width="6.0" stroke-dasharray="5.56 2.78" fill="none"/>
<path d="M811 132.1 H900.3" stroke="#0000ff" stroke-width="6.0" stroke-dasharray="2.78 4.17" fill="none"/>
<path d="M811 165.4 H900.3" stroke="#808000" stroke-width="6.0" stroke-dasharray="1.39 2.78 8.34 2.78 1.39 2.78" fill="none"/>
</svg></body></html>
